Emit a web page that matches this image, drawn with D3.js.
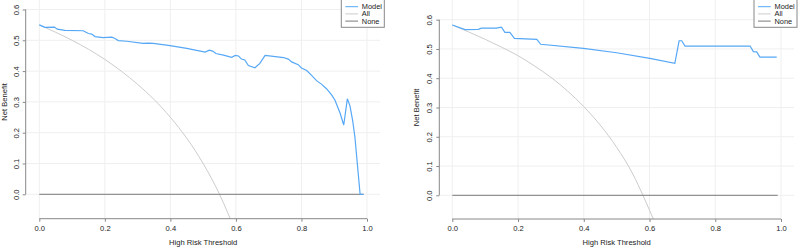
<!DOCTYPE html>
<html>
<head>
<meta charset="utf-8">
<script src="https://cdn.jsdelivr.net/npm/d3@7"></script>
<style>
  body { margin: 0; background: #fff; }
  svg { display: block; font-family: "Liberation Sans", Arial, sans-serif; }
</style>
</head>
<body>
<div id="chart"></div>
<script>
// ticks
const xTicks = [0, 0.2, 0.4, 0.6, 0.8, 1.0];
const yTicks = [0, 0.1, 0.2, 0.3, 0.4, 0.5, 0.6];
const legendLabels = ["Model", "All", "None"];

// left panel: [threshold, net benefit]
const modelLeft = [
  [0, 0.550], [0.017, 0.542], [0.046, 0.543], [0.055, 0.536], [0.078, 0.532],
  [0.134, 0.531], [0.141, 0.527], [0.150, 0.522], [0.160, 0.520], [0.170, 0.512],
  [0.195, 0.509], [0.221, 0.510], [0.231, 0.506], [0.241, 0.499], [0.267, 0.497],
  [0.317, 0.490], [0.333, 0.491], [0.348, 0.490], [0.399, 0.483], [0.450, 0.474],
  [0.506, 0.462], [0.519, 0.468], [0.529, 0.465], [0.539, 0.457], [0.562, 0.452],
  [0.587, 0.445], [0.598, 0.451], [0.608, 0.449], [0.617, 0.439], [0.627, 0.436],
  [0.638, 0.418], [0.658, 0.411], [0.673, 0.425], [0.689, 0.451], [0.714, 0.448],
  [0.745, 0.444], [0.760, 0.439], [0.770, 0.430], [0.790, 0.421], [0.800, 0.410],
  [0.816, 0.402], [0.831, 0.386], [0.846, 0.369], [0.862, 0.357], [0.877, 0.342],
  [0.892, 0.323], [0.902, 0.306], [0.918, 0.263], [0.929, 0.225], [0.940, 0.310],
  [0.948, 0.287], [0.956, 0.241], [0.963, 0.187], [0.979, 0], [0.989, 0]
];
const allLeft = [
  [0, 0.550], [0.05, 0.526], [0.10, 0.500], [0.15, 0.471], [0.20, 0.438],
  [0.25, 0.400], [0.30, 0.357], [0.35, 0.308], [0.40, 0.250], [0.45, 0.182],
  [0.50, 0.100], [0.55, 0.000], [0.60, -0.125]
];
const noneLeft = [[0, 0], [0.99, 0]];

// right panel
const modelRight = [
  [0, 0.582], [0.039, 0.566], [0.079, 0.567], [0.089, 0.571], [0.135, 0.571],
  [0.145, 0.574], [0.150, 0.574], [0.160, 0.557], [0.175, 0.557], [0.189, 0.536],
  [0.257, 0.533], [0.269, 0.516], [0.399, 0.502], [0.500, 0.487], [0.601, 0.468],
  [0.677, 0.451], [0.690, 0.528], [0.698, 0.528], [0.708, 0.510], [0.906, 0.510],
  [0.916, 0.491], [0.926, 0.490], [0.936, 0.472], [0.987, 0.472]
];
const allRight = [
  [0, 0.582], [0.05, 0.558], [0.10, 0.533], [0.15, 0.506], [0.20, 0.477],
  [0.25, 0.442], [0.30, 0.403], [0.35, 0.357], [0.40, 0.303], [0.45, 0.240],
  [0.50, 0.164], [0.55, 0.071], [0.58, 0.000], [0.62, -0.104]
];
const noneRight = [[0, 0], [0.99, 0]];

const colors = { model: "#56a8f6", all: "#cccccc", none: "#7a7a7a" };

const svg = d3.select("#chart").append("svg")
    .attr("width", 798)
    .attr("height", 247);

function drawPanel(p) {
    const x = d3.scaleLinear().domain([0, 1]).range([p.x0, p.x1]);
    const y = d3.scaleLinear().domain([0, 0.6]).range([p.y0, p.y6]);
    const g = svg.append("g");

    // clip to plot region
    g.append("clipPath").attr("id", p.id)
        .append("rect")
        .attr("x", p.left).attr("y", p.top)
        .attr("width", p.right - p.left).attr("height", p.bottom - p.top);

    // grid
    g.selectAll(".vg").data(xTicks).enter().append("line")
        .attr("x1", d => x(d)).attr("x2", d => x(d))
        .attr("y1", p.top).attr("y2", p.bottom)
        .attr("stroke", "#efefef");
    g.selectAll(".hg").data(yTicks).enter().append("line")
        .attr("x1", p.left).attr("x2", p.right)
        .attr("y1", d => y(d)).attr("y2", d => y(d))
        .attr("stroke", "#efefef");

    const line = d3.line().x(d => x(d[0])).y(d => y(d[1]));
    const plot = g.append("g").attr("clip-path", `url(#${p.id})`);

    plot.append("path").datum(p.all)
        .attr("fill", "none").attr("stroke", colors.all).attr("stroke-width", 1)
        .attr("d", line.curve(d3.curveMonotoneX));
    line.curve(d3.curveLinear);
    plot.append("path").datum(p.none)
        .attr("fill", "none").attr("stroke", colors.none).attr("stroke-width", 1)
        .attr("d", line);
    plot.append("path").datum(p.model)
        .attr("fill", "none").attr("stroke", colors.model).attr("stroke-width", 1.2)
        .attr("d", line);

    // axes (R style: line only between extreme ticks)
    const ax = g.append("g").attr("transform", `translate(0,${p.bottom})`)
        .call(d3.axisBottom(x).tickValues(xTicks).tickFormat(d3.format(".1f")).tickSize(3).tickPadding(4));
    const ay = g.append("g").attr("transform", `translate(${p.left},0)`)
        .call(d3.axisLeft(y).tickValues(yTicks).tickFormat(d3.format(".1f")).tickSize(3).tickPadding(3));
    [ax, ay].forEach(a => {
        a.select(".domain").remove();
        a.selectAll(".tick line").attr("stroke", "#888");
        a.selectAll(".tick text").attr("fill", "#222").style("font-size", "7.6px")
            .style("font-family", "Liberation Sans, Arial, sans-serif");
    });
    ay.selectAll(".tick text")
        .attr("transform", "rotate(-90)")
        .attr("x", 0).attr("y", -7)
        .attr("dy", 0)
        .attr("text-anchor", "middle")
        .attr("dominant-baseline", "auto");
    g.append("line")
        .attr("x1", x(0)).attr("x2", x(1))
        .attr("y1", p.bottom).attr("y2", p.bottom)
        .attr("stroke", "#888");
    g.append("line")
        .attr("x1", p.left).attr("x2", p.left)
        .attr("y1", y(0)).attr("y2", y(0.6))
        .attr("stroke", "#888");

    // axis titles
    g.append("text")
        .attr("x", (x(0) + x(1)) / 2).attr("y", 245)
        .attr("text-anchor", "middle")
        .style("font-size", "7.6px").attr("fill", "#222")
        .text("High Risk Threshold");
    g.append("text")
        .attr("transform", `translate(${p.ylab},${(y(0) + y(0.6)) / 2}) rotate(-90)`)
        .attr("text-anchor", "middle")
        .style("font-size", "7.6px").attr("fill", "#222")
        .text("Net Benefit");

    // legend
    const lg = g.append("g");
    lg.append("rect")
        .attr("x", p.legX).attr("y", -2)
        .attr("width", 43).attr("height", 29.3)
        .attr("fill", "#fff").attr("stroke", "#888");
    const legColors = [colors.model, colors.all, colors.none];
    lg.selectAll(".ll").data(legendLabels).enter().append("line")
        .attr("x1", p.legX + 4).attr("x2", p.legX + 16.7)
        .attr("y1", (d, i) => 6.7 + i * 7.2).attr("y2", (d, i) => 6.7 + i * 7.2)
        .attr("stroke", (d, i) => legColors[i]);
    lg.selectAll(".lt").data(legendLabels).enter().append("text")
        .attr("x", p.legX + 20.5)
        .attr("y", (d, i) => 6.7 + i * 7.2)
        .attr("dy", "0.35em")
        .style("font-size", "7.4px").attr("fill", "#222")
        .text(d => d);
}

drawPanel({
    id: "clipL", model: modelLeft, all: allLeft, none: noneLeft,
    x0: 39.3, x1: 367, y0: 194.3, y6: 9.5,
    left: 25.7, right: 380, top: 0, bottom: 218.7,
    ylab: 7, legX: 341.3
});
drawPanel({
    id: "clipR", model: modelRight, all: allRight, none: noneRight,
    x0: 452.3, x1: 781, y0: 195.3, y6: 19.7,
    left: 439.3, right: 794, top: 0, bottom: 219,
    ylab: 418.5, legX: 754
});
</script>
</body>
</html>
